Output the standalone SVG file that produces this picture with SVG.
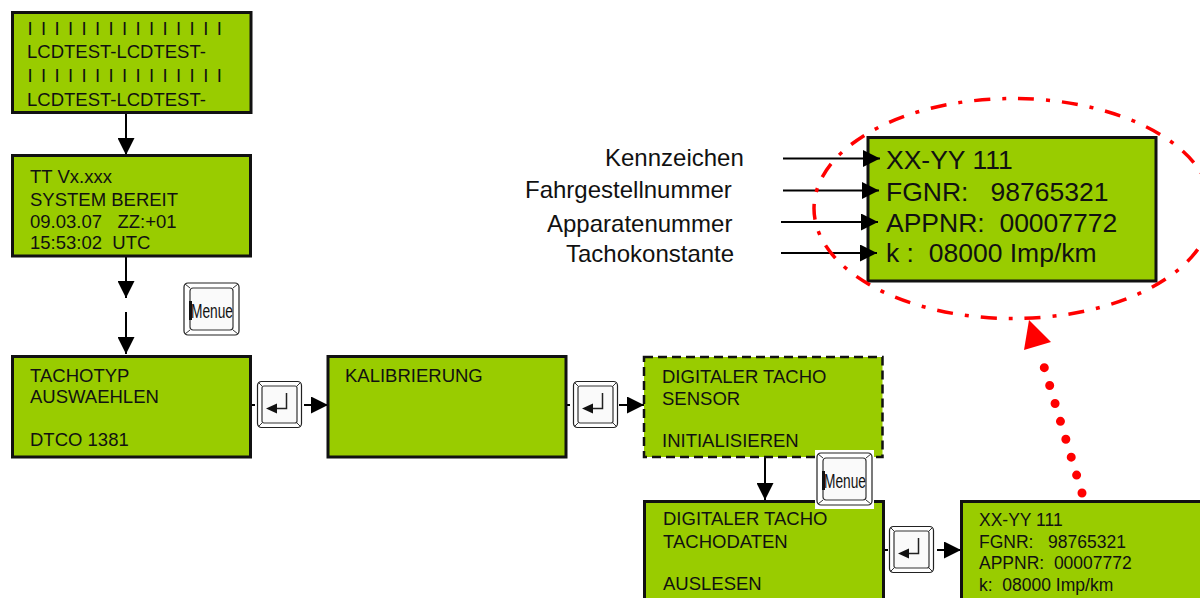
<svg xmlns="http://www.w3.org/2000/svg" xmlns:xlink="http://www.w3.org/1999/xlink" width="1200" height="598" viewBox="0 0 1200 598">
<style>
text{font-family:"Liberation Sans",Arial,sans-serif;fill:#111;white-space:pre}
.lcd{fill:#99cc00;stroke:#111;stroke-width:3}
.dash{stroke-width:2.5;stroke-dasharray:9 5}
.t{font-size:18.5px}
.big{font-size:26.5px}
.lab{font-size:24px}
.con{stroke:#000;stroke-width:2;fill:none}
.ah{marker-end:url(#arrow)}
.k1{fill:#fff;stroke:#222;stroke-width:1.2}
.k2{fill:#fafafa;stroke:#333;stroke-width:1.2}
.k3{stroke:#333;stroke-width:1;fill:none}
</style>
<defs>
<marker id="arrow" markerUnits="userSpaceOnUse" markerWidth="17" markerHeight="17" refX="16" refY="8" orient="auto" viewBox="0 0 16 16">
<path d="M0 0L16 8L0 16Z" fill="#000"/>
</marker>
<g id="enterkey">
<rect class="k1" x="0.5" y="0.5" width="44" height="46" rx="4"/>
<rect class="k2" x="5" y="5" width="35" height="37" rx="2"/>
<path class="k3" d="M1.5 1.5L5 5M43.500 1.500L40 5M1.500 45.500L5 42M43.500 45.500L40 42"/>
<path d="M29.500 12V27.500H16" fill="none" stroke="#222" stroke-width="1.500"/>
<path d="M9 27.500L20 22.500V32.500Z" fill="#111"/>
</g>
<g id="menukey">
<rect class="k1" x="1" y="1" width="55" height="52" rx="4"/>
<rect class="k2" x="7" y="6" width="43" height="42" rx="3"/>
<path class="k3" d="M2 2L7 6M55 2L50 6M2 52L7 48M55 52L50 48"/>
<rect x="6" y="19" width="3" height="19" fill="#111"/>
<text x="8" y="36" font-size="21" textLength="42" lengthAdjust="spacingAndGlyphs">Menue</text>
</g>
</defs>

<g id="connectors">
<line class="con ah" x1="126" y1="113" x2="126" y2="155"/>
<line class="con ah" x1="126" y1="257" x2="126" y2="298"/>
<line class="con ah" x1="126" y1="312" x2="126" y2="354"/>
<line class="con" x1="252" y1="405" x2="255" y2="405"/>
<line class="con ah" x1="304" y1="405" x2="328" y2="405"/>
<line class="con" x1="567" y1="405" x2="570" y2="405"/>
<line class="con ah" x1="619" y1="405" x2="644" y2="405"/>
<line class="con ah" x1="765" y1="458" x2="765" y2="500"/>
<line class="con" x1="885" y1="550" x2="888" y2="550"/>
<line class="con ah" x1="937" y1="550" x2="961" y2="550"/>
</g>

<g id="node-lcdtest">
<rect class="lcd" x="12.500" y="12.500" width="238.500" height="100"/>
<text class="t" x="27.500" y="35" word-spacing="3.230">I I I I I I I I I I I I I I I</text>
<text class="t" x="27" y="58">LCDTEST-LCDTEST-</text>
<text class="t" x="27.500" y="82" word-spacing="3.230">I I I I I I I I I I I I I I I</text>
<text class="t" x="27" y="105.500">LCDTEST-LCDTEST-</text>
</g>
<g id="node-bereit">
<rect class="lcd" x="12.500" y="155.500" width="238" height="100.500"/>
<text class="t" x="30" y="183">TT Vx.xxx</text>
<text class="t" x="30" y="206">SYSTEM BEREIT</text>
<text class="t" x="30" y="227.500">09.03.07   ZZ:+01</text>
<text class="t" x="30" y="248.500">15:53:02  UTC</text>
</g>
<g id="node-tachotyp">
<rect class="lcd" x="12.500" y="356.500" width="238" height="100.500"/>
<text class="t" x="30" y="382">TACHOTYP</text>
<text class="t" x="30" y="403">AUSWAEHLEN</text>
<text class="t" x="30" y="446">DTCO 1381</text>
</g>
<g id="node-kalibrierung">
<rect class="lcd" x="328" y="356.500" width="238" height="100.500"/>
<text class="t" x="345" y="382">KALIBRIERUNG</text>
</g>
<g id="node-sensor">
<rect class="lcd dash" x="644" y="357" width="238.500" height="100"/>
<text class="t" x="662" y="382.500">DIGITALER TACHO</text>
<text class="t" x="662" y="404.500">SENSOR</text>
<text class="t" x="662" y="446.500">INITIALISIEREN</text>
</g>
<g id="node-tachodaten">
<rect class="lcd" x="644.500" y="501.500" width="239" height="100"/>
<text class="t" x="663" y="525">DIGITALER TACHO</text>
<text class="t" x="663" y="547.500">TACHODATEN</text>
<text class="t" x="663" y="590">AUSLESEN</text>
</g>
<g id="node-xx-small">
<rect class="lcd" x="961.500" y="501.500" width="245" height="100"/>
<text class="t" x="979" y="526" style="font-size:17.500px">XX-YY 111</text>
<text class="t" x="979" y="547.500" style="font-size:17.500px">FGNR:   98765321</text>
<text class="t" x="979" y="569" style="font-size:17.500px">APPNR:  00007772</text>
<text class="t" x="979" y="590.500" style="font-size:17.500px">k:  08000 Imp/km</text>
</g>
<g id="node-xx-big">
<rect class="lcd" x="868" y="137.500" width="288" height="143.500"/>
<text class="big" x="886" y="169">XX-YY 111</text>
<text class="big" x="886" y="200.500">FGNR:   98765321</text>
<text class="big" x="886" y="232">APPNR:  00007772</text>
<text class="big" x="886" y="262">k :  08000 Imp/km</text>
</g>

<g id="label-arrows">
<line class="con ah" x1="783" y1="158.500" x2="880" y2="158.500"/>
<line class="con ah" x1="783" y1="190.500" x2="879" y2="190.500"/>
<line class="con ah" x1="781" y1="222" x2="878" y2="222"/>
<line class="con ah" x1="781" y1="253" x2="877" y2="253"/>
</g>
<g id="labels">
<text class="lab" x="605" y="166">Kennzeichen</text>
<text class="lab" x="525" y="198">Fahrgestellnummer</text>
<text class="lab" x="547" y="232">Apparatenummer</text>
<text class="lab" x="566" y="262">Tachokonstante</text>
</g>

<g id="key-menu-1"><use href="#menukey" x="183" y="282"/></g>
<g id="key-enter-1"><use href="#enterkey" x="257" y="381"/></g>
<g id="key-enter-2"><use href="#enterkey" x="573" y="381"/></g>
<g id="key-enter-3"><use href="#enterkey" x="889" y="526"/></g>
<g id="key-menu-2">
<rect x="815" y="450" width="59" height="59" fill="#fff"/>
<use href="#menukey" x="816" y="452"/>
</g>

<g id="highlight">
<ellipse cx="1013" cy="208.500" rx="199" ry="110" fill="none" stroke="#ff0000" stroke-width="3.500" stroke-dasharray="16 12 4 12"/>
<line x1="1082" y1="493" x2="1039" y2="350" stroke="#ff0000" stroke-width="9" stroke-linecap="round" stroke-dasharray="0 18.700"/>
<path d="M1029 320L1051 342L1024 350Z" fill="#ff0000"/>
</g>
</svg>
